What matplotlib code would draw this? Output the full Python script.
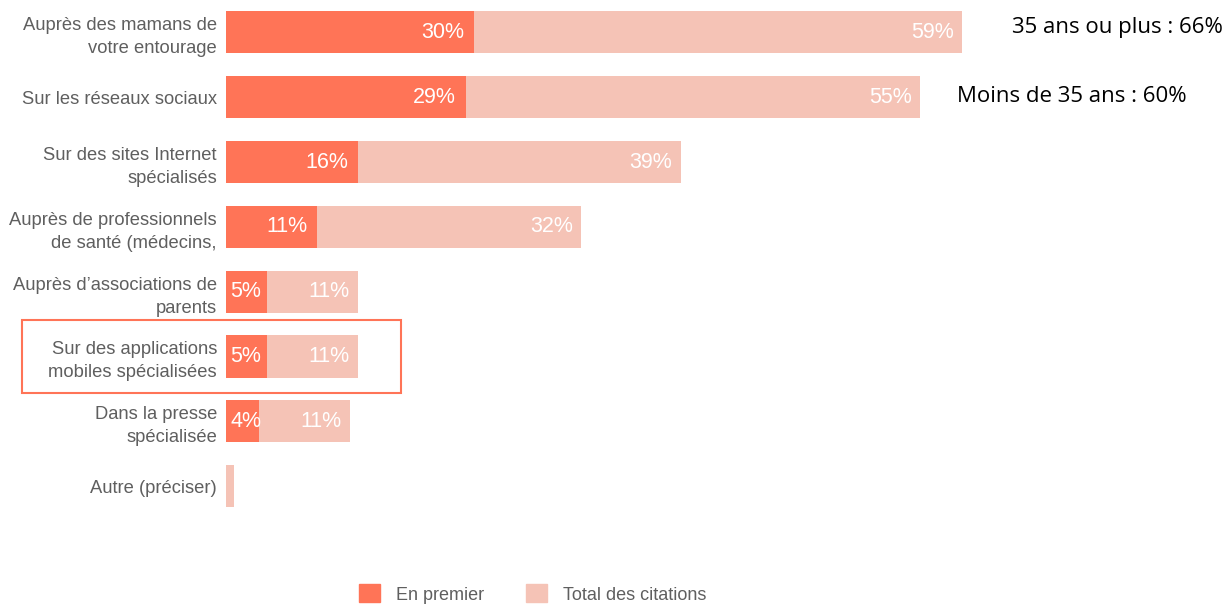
import matplotlib.pyplot as plt
from matplotlib.patches import Patch, Rectangle
from matplotlib.transforms import blended_transform_factory

# data
categories = [
    "Auprès des mamans de\nvotre entourage",
    "Sur les réseaux sociaux",
    "Sur des sites Internet\nspécialisés",
    "Auprès de professionnels\nde santé (médecins,",
    "Auprès d’associations de\nparents",
    "Sur des applications\nmobiles spécialisées",
    "Dans la presse\nspécialisée",
    "Autre (préciser)",
]
en_premier = [30, 29, 16, 11, 5, 5, 4, 0]
total_citations = [59, 55, 39, 32, 11, 11, 11, 1]
notes = ["35 ans ou plus : 66%", "Moins de 35 ans : 60%"]

c_first = "#FF7457"
c_total = "#F5C3B6"

plt.rcParams['font.family'] = ['Liberation Sans', 'DejaVu Sans']

fig = plt.figure(figsize=(12.29, 6.06), dpi=100)
ax = fig.add_axes([226 / 1229, 1 - 518.5 / 606, 992 / 1229, 518.5 / 606])

y = list(range(len(categories)))
ax.barh(y, en_premier, height=0.65, color=c_first)
ax.barh(y, total_citations, left=en_premier, height=0.65, color=c_total)

ax.set_xlim(0, 120)
ax.set_ylim(len(categories) - 0.5, -0.5)
ax.set_yticks(y)
ax.set_yticklabels(categories, fontsize=13.2, color="#5f5f5f", linespacing=1.45)
ax.tick_params(axis='y', length=0, pad=6.5)
ax.set_xticks([])
for s in ax.spines.values():
    s.set_visible(False)

# value labels
for i in y:
    f = en_premier[i]
    t = total_citations[i]
    if f > 0:
        if f >= 8:
            ax.text(f - 1.2, i, f"{f}%", ha='right', va='center', color='white', fontsize=15.5)
        else:
            ax.text(0.55, i, f"{f}%", ha='left', va='center', color='white', fontsize=15.5)
    if t > 1:
        ax.text(f + t - 1.0, i, f"{t}%", ha='right', va='center', color='white', fontsize=15.5)

# side notes
fig.text(1012 / 1229, 1 - 27 / 606, notes[0], ha='left', va='center', fontsize=16,
         family=['Open Sans', 'DejaVu Sans'], color='black')
fig.text(957 / 1229, 1 - 97 / 606, notes[1], ha='left', va='center', fontsize=16,
         family=['Open Sans', 'DejaVu Sans'], color='black')

# highlight box around the apps row
tr = blended_transform_factory(fig.transFigure, ax.transData)
box = Rectangle((22 / 1229, 5 - 0.56), (401 - 22) / 1229, 1.12, transform=tr,
                fill=False, edgecolor=c_first, linewidth=1.5, clip_on=False)
fig.add_artist(box)

# legend
handles = [Patch(color=c_first, label="En premier"),
           Patch(color=c_total, label="Total des citations")]
fig.legend(handles=handles, loc='center', bbox_to_anchor=(533 / 1229, 1 - 594 / 606),
           ncol=2, frameon=False, fontsize=13, handlelength=1.15, handleheight=1.15,
           handletextpad=0.9, columnspacing=2.3, labelcolor="#5f5f5f")

fig.savefig("out.png", dpi=100)
